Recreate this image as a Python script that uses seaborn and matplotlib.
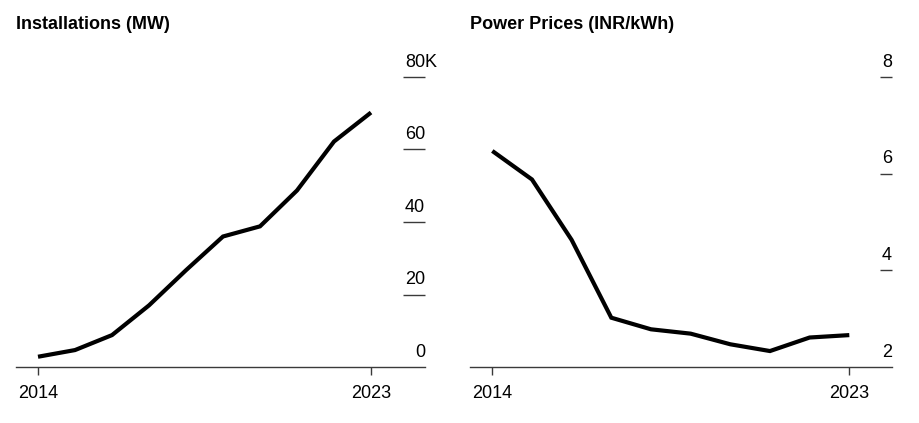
import pandas as pd
import matplotlib
matplotlib.use("Agg")
import matplotlib.pyplot as plt
import seaborn as sns

# --- data ---
years = [2014, 2015, 2016, 2017, 2018, 2019, 2020, 2021, 2022, 2023]
installations_mw = [2830, 4670, 8800, 17000, 26700, 36000, 38800, 48700, 62200, 70200]
power_price_inr = [6.47, 5.88, 4.63, 3.02, 2.78, 2.69, 2.47, 2.33, 2.61, 2.66]

left_title = "Installations (MW)"
right_title = "Power Prices (INR/kWh)"
left_yticks = [0, 20000, 40000, 60000, 80000]
left_ylabels = ["0", "20", "40", "60", "80"]
right_yticks = [2, 4, 6, 8]
right_ylabels = ["2", "4", "6", "8"]
xticks = [2014, 2023]

df_inst = pd.DataFrame({"year": years, "value": installations_mw})
df_price = pd.DataFrame({"year": years, "value": power_price_inr})

sns.set_theme(style="white")
plt.rcParams["font.family"] = ["Liberation Sans", "DejaVu Sans"]

W, H = 919, 423
fig = plt.figure(figsize=(W / 100, H / 100), dpi=100)

bottom = (H - 367) / H
height = (367 - 77) / H
ax1 = fig.add_axes([16 / W, bottom, 409 / W, height])
ax2 = fig.add_axes([470 / W, bottom, 422 / W, height])

axis_color = "#3a3a3a"
FS = 13


def style_panel(ax, df, yticks, ylabels, ylim, xlim, tick_start, suffix, title, title_x):
    sns.lineplot(data=df, x="year", y="value", ax=ax, color="black",
                 linewidth=3.0, solid_joinstyle="miter", solid_capstyle="butt")
    ax.set_xlim(*xlim)
    ax.set_ylim(*ylim)
    ax.set_xlabel("")
    ax.set_ylabel("")
    for s in ["top", "left", "right"]:
        ax.spines[s].set_visible(False)
    ax.spines["bottom"].set_color(axis_color)
    ax.spines["bottom"].set_linewidth(1.0)
    ax.set_xticks(xticks)
    ax.set_xticklabels([str(x) for x in xticks])
    ax.tick_params(axis="x", direction="out", length=6, width=1.0,
                   color=axis_color, pad=7, labelsize=FS, labelcolor="black",
                   bottom=True)
    ax.set_yticks([])

    # short horizontal tick lines on the right, labels sitting above them
    tr = ax.get_yaxis_transform()
    ax.hlines(yticks[1:], tick_start, 1.0, transform=tr, color=axis_color,
              linewidth=1.0, clip_on=False)
    for i, (v, lab) in enumerate(zip(yticks, ylabels)):
        ax.annotate(lab, xy=(1.0, v), xycoords=tr, xytext=(0, 7.5),
                    textcoords="offset points", ha="right", va="baseline",
                    fontsize=FS, color="black", annotation_clip=False)
        if i == len(yticks) - 1 and suffix:
            ax.annotate(suffix, xy=(1.0, v), xycoords=tr, xytext=(0, 7.5),
                        textcoords="offset points", ha="left", va="baseline",
                        fontsize=FS, color="black", annotation_clip=False)

    fig.text(title_x / W, (H - 29) / H, title, fontsize=FS, fontweight="bold",
             ha="left", va="baseline", color="black")


style_panel(ax1, df_inst, left_yticks, left_ylabels, (0, 80000),
            (2014 - 22 / 37, 2023 + 54 / 37), 0.946, "K", left_title, 16)
style_panel(ax2, df_price, right_yticks, right_ylabels, (2, 8),
            (2014 - 22.3 / 39.67, 2023 + 42.7 / 39.67), 0.972, "", right_title, 470)

fig.savefig("out.png", dpi=100, facecolor="white")
